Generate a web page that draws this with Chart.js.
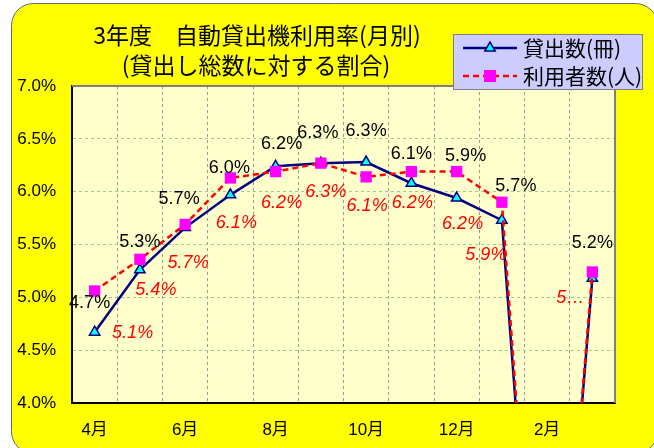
<!DOCTYPE html>
<html><head><meta charset="utf-8">
<script src="https://cdn.jsdelivr.net/npm/chart.js@4/dist/chart.umd.min.js"></script>
<style>html,body{margin:0;padding:0;background:#fff;overflow:hidden}</style>
</head><body>
<canvas id="c" width="654" height="448"></canvas>
<script>
// ---- data ----
const months = ['4月','5月','6月','7月','8月','9月','10月','11月','12月','1月','2月','3月'];
const lendingRate = [4.67,5.26,5.66,5.97,6.24,6.27,6.28,6.08,5.94,5.73,0,5.18];
const userRate    = [5.06,5.36,5.69,6.13,6.19,6.27,6.14,6.19,6.19,5.90,0,5.24];
const seriesNames = ['貸出数(冊)','利用者数(人)'];
const titleLines = ['3年度　自動貸出機利用率(月別)','(貸出し総数に対する割合)'];
const yMin = 4.0, yMax = 7.0, yStep = 0.5;
// label text shown truncated in the original (last point of 利用者数)
const userLabelTexts = [null,null,null,null,null,null,null,null,null,null,null,'5…'];

const NUMFONT = '"Liberation Sans", "Noto Sans CJK JP", sans-serif';
const JPFONT = '"Noto Sans CJK JP", sans-serif';

function rr(ctx,x,y,w,h,r){
  ctx.beginPath();
  ctx.moveTo(x+r,y);ctx.lineTo(x+w-r,y);ctx.arcTo(x+w,y,x+w,y+r,r);
  ctx.lineTo(x+w,y+h-r);ctx.arcTo(x+w,y+h,x+w-r,y+h,r);
  ctx.lineTo(x+r,y+h);ctx.arcTo(x,y+h,x,y+h-r,r);
  ctx.lineTo(x,y+r);ctx.arcTo(x,y,x+r,y,r);ctx.closePath();
}
function tri(ctx,x,y,r){
  ctx.beginPath();
  const w=r*Math.sqrt(3)/2;
  ctx.moveTo(x,y-r);ctx.lineTo(x+w,y+r/2);ctx.lineTo(x-w,y+r/2);ctx.closePath();
}

const decor = {
  id:'decor',
  beforeDraw(chart){
    const ctx=chart.ctx, a=chart.chartArea;
    ctx.save();
    ctx.fillStyle='#ffffff';ctx.fillRect(0,0,chart.width,chart.height);
    rr(ctx,11.5,3.5,646,450,22);
    ctx.fillStyle='#FFFF00';ctx.fill();
    ctx.lineWidth=1;ctx.strokeStyle='#666666';ctx.stroke();
    ctx.fillStyle='#FFFFCC';ctx.fillRect(a.left,a.top,a.right-a.left,a.bottom-a.top);
    ctx.restore();
  },
  beforeDatasetsDraw(chart){
    const ctx=chart.ctx, a=chart.chartArea;
    ctx.save();
    ctx.strokeStyle='#808080';ctx.lineWidth=2;
    ctx.beginPath();ctx.moveTo(a.left,a.top);ctx.lineTo(a.right,a.top);ctx.lineTo(a.right,a.bottom);ctx.stroke();
    ctx.restore();
  },
  afterDraw(chart){
    const ctx=chart.ctx;
    ctx.save();
    // title
    ctx.fillStyle='#000';ctx.textAlign='center';ctx.textBaseline='middle';
    ctx.font='23px '+JPFONT;
    ctx.fillText(titleLines[0],257,35);
    ctx.fillText(titleLines[1],256,65);
    // legend
    ctx.fillStyle='#CCCCFF';ctx.fillRect(453,34,189,55);
    ctx.strokeStyle='#808080';ctx.lineWidth=1;ctx.strokeRect(453.5,34.5,189,55);
    const ds=chart.data.datasets;
    let y=48;
    ctx.strokeStyle='#000080';ctx.lineWidth=2.5;ctx.setLineDash([]);
    ctx.beginPath();ctx.moveTo(463,y);ctx.lineTo(517,y);ctx.stroke();
    tri(ctx,490,y,6);ctx.fillStyle='#00FFFF';ctx.fill();ctx.lineWidth=1.5;ctx.stroke();
    ctx.fillStyle='#000';ctx.textAlign='left';ctx.font='21px '+JPFONT;
    ctx.fillText(ds[1].label,523,y);
    y=76;
    ctx.strokeStyle='#FF0000';ctx.lineWidth=2.5;ctx.setLineDash([6,4]);
    ctx.beginPath();ctx.moveTo(463,y);ctx.lineTo(517,y);ctx.stroke();
    ctx.setLineDash([]);
    ctx.fillStyle='#FF00FF';ctx.fillRect(484,y-6,12,12);
    ctx.fillStyle='#000';
    ctx.fillText(ds[0].label,523,y);
    ctx.restore();
  }
};

const labelCfg = [
  {dataset:1,font:'18px '+NUMFONT,color:'#000000',texts:null,
   dx:[-5,0,-6,-1,6,-3,0,0,9,14,0,0],dy:[-29,-28,-29,-27,-22,-30,-31,-29,-42,-34,0,-35]},
  {dataset:0,font:'italic 18px '+NUMFONT,color:'#FF0000',texts:userLabelTexts,
   dx:[38,16,3,6,6,5,1,1,6,-16,0,-22],dy:[42,31,39,45,31,29,29,31,52,53,0,26]}
];

const labelsPlugin = {
  id:'vlabels',
  afterDatasetsDraw(chart){
    const ctx=chart.ctx, a=chart.chartArea;
    ctx.save();
    ctx.textAlign='center';ctx.textBaseline='middle';
    labelCfg.forEach(cfg=>{
      const meta=chart.getDatasetMeta(cfg.dataset);
      const data=chart.data.datasets[cfg.dataset].data;
      ctx.font=cfg.font;ctx.fillStyle=cfg.color;
      meta.data.forEach((pt,i)=>{
        if(pt.y>a.bottom+1||pt.y<a.top-1) return;
        const txt=(cfg.texts&&cfg.texts[i])||(data[i].toFixed(1)+'%');
        ctx.fillText(txt,pt.x+cfg.dx[i],pt.y+cfg.dy[i]);
      });
    });
    ctx.restore();
  }
};

new Chart(document.getElementById('c'),{
  type:'line',
  data:{
    labels:months,
    datasets:[
      {label:seriesNames[1],data:userRate,borderColor:'#FF0000',borderWidth:2.5,borderDash:[6,4],
       pointStyle:'rect',pointRadius:8,pointBackgroundColor:'#FF00FF',pointBorderColor:'#FF00FF',pointBorderWidth:0,
       tension:0,order:1},
      {label:seriesNames[0],data:lendingRate,borderColor:'#000080',borderWidth:2.5,
       pointStyle:'triangle',pointRadius:6,pointBackgroundColor:'#00FFFF',pointBorderColor:'#000080',pointBorderWidth:1.5,
       tension:0,order:2}
    ]
  },
  options:{
    responsive:false,devicePixelRatio:1,animation:false,
    layout:{padding:{left:0,top:86,right:39,bottom:0}},
    plugins:{legend:{display:false},tooltip:{enabled:false},title:{display:false}},
    scales:{
      x:{
        afterFit(s){s.height=45;},
        offset:true,
        grid:{offset:true,color:'#999999',lineWidth:1,drawTicks:false},
        border:{display:true,color:'#000000',width:2,dash:[3,3]},
        ticks:{autoSkip:false,maxRotation:0,padding:17,color:'#000',font:{size:17,family:NUMFONT},
          callback(v,i){return i%2===0?months[i]:'';}}
      },
      y:{
        min:yMin,max:yMax,
        afterFit(s){s.width=72;},
        grid:{color:'#99CC99',lineWidth:1,drawTicks:false},
        border:{display:true,color:'#000000',width:2,dash:[3,3]},
        ticks:{stepSize:yStep,padding:16,color:'#000',font:{size:17,family:NUMFONT},
          callback(v){return Number(v).toFixed(1)+'%';}}
      }
    }
  },
  plugins:[decor,labelsPlugin]
});
</script>
</body></html>
